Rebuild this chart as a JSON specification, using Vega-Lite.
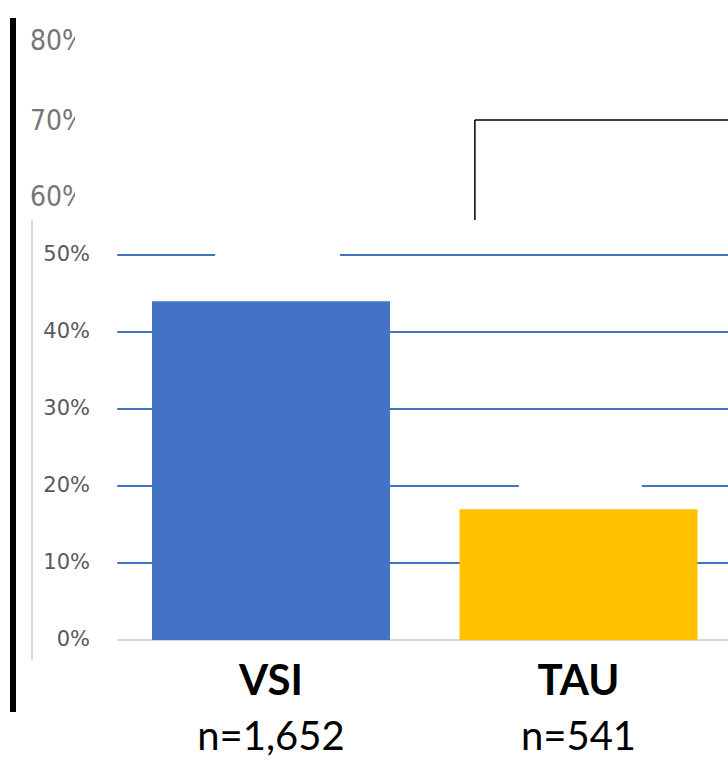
{
  "$schema": "https://vega.github.io/schema/vega-lite/v6.json",
  "width": 728,
  "height": 760,
  "autosize": "none",
  "padding": 0,
  "background": "white",
  "config": {"view": {"stroke": null}},
  "datasets": {
    "bars": [
      {"group": "VSI", "pos": 1, "share": 0.44, "n": "n=1,652"},
      {"group": "TAU", "pos": 2, "share": 0.17, "n": "n=541"}
    ],
    "grid": [
      {"level": 0.1, "from": 0.5, "to": 2.49},
      {"level": 0.2, "from": 0.5, "to": 1.806},
      {"level": 0.2, "from": 2.206, "to": 2.49},
      {"level": 0.3, "from": 0.5, "to": 2.49},
      {"level": 0.4, "from": 0.5, "to": 2.49},
      {"level": 0.5, "from": 0.5, "to": 0.818},
      {"level": 0.5, "from": 1.224, "to": 2.49}
    ],
    "lowerTicks": [
      {"v": 0, "label": "0%"},
      {"v": 0.1, "label": "10%"},
      {"v": 0.2, "label": "20%"},
      {"v": 0.3, "label": "30%"},
      {"v": 0.4, "label": "40%"},
      {"v": 0.5, "label": "50%"}
    ],
    "upperTicks": [
      {"v": 0.7766, "label": "80%"},
      {"v": 0.6727, "label": "70%"},
      {"v": 0.574, "label": "60%"}
    ],
    "bracket": [
      {"xa": 1.663, "ya": 0.5455, "xb": 1.663, "yb": 0.6753},
      {"xa": 1.663, "ya": 0.6753, "xb": 2.49, "yb": 0.6753}
    ],
    "frame": [
      {"xa": 0.161, "ya": 0.8078, "xb": 0.161, "yb": -0.0935, "kind": "outer"},
      {"xa": 0.2228, "ya": 0.5455, "xb": 0.2228, "yb": -0.026, "kind": "inner"},
      {"xa": 0.5, "ya": 0, "xb": 2.49, "yb": 0, "kind": "base"}
    ]
  },
  "layer": [
    {
      "data": {"name": "grid"},
      "mark": {"type": "rule", "color": "#4472C4", "strokeWidth": 2},
      "encoding": {
        "x": {"field": "from", "type": "quantitative", "scale": {"domain": [0.1187, 2.4862], "nice": false, "zero": false, "padding": 0}, "axis": null},
        "x2": {"field": "to"},
        "y": {"field": "level", "type": "quantitative", "scale": {"domain": [-0.1558, 0.8312], "nice": false, "zero": false, "padding": 0}, "axis": null}
      }
    },
    {
      "data": {"name": "frame"},
      "transform": [{"filter": "datum.kind === 'outer'"}],
      "mark": {"type": "rule", "color": "#000000", "strokeWidth": 6},
      "encoding": {
        "x": {"field": "xa", "type": "quantitative"},
        "x2": {"field": "xb"},
        "y": {"field": "ya", "type": "quantitative"},
        "y2": {"field": "yb"}
      }
    },
    {
      "data": {"name": "frame"},
      "transform": [{"filter": "datum.kind !== 'outer'"}],
      "mark": {"type": "rule", "color": "#D9D9D9", "strokeWidth": 2},
      "encoding": {
        "x": {"field": "xa", "type": "quantitative"},
        "x2": {"field": "xb"},
        "y": {"field": "ya", "type": "quantitative"},
        "y2": {"field": "yb"}
      }
    },
    {
      "data": {"name": "bars"},
      "mark": {"type": "bar", "orient": "vertical", "width": 238},
      "encoding": {
        "x": {"field": "pos", "type": "quantitative"},
        "y": {"field": "share", "type": "quantitative"},
        "y2": {"datum": 0},
        "color": {"field": "group", "type": "nominal", "scale": {"domain": ["VSI", "TAU"], "range": ["#4472C4", "#FFC000"]}, "legend": null}
      }
    },
    {
      "data": {"name": "bracket"},
      "mark": {"type": "rule", "color": "#000000", "strokeWidth": 1.5},
      "encoding": {
        "x": {"field": "xa", "type": "quantitative"},
        "x2": {"field": "xb"},
        "y": {"field": "ya", "type": "quantitative"},
        "y2": {"field": "yb"}
      }
    },
    {
      "data": {"name": "lowerTicks"},
      "mark": {"type": "text", "align": "right", "baseline": "middle", "font": "DejaVu Sans", "fontSize": 21, "color": "#595959"},
      "encoding": {
        "x": {"datum": 0.4114, "type": "quantitative"},
        "y": {"field": "v", "type": "quantitative"},
        "text": {"field": "label"}
      }
    },
    {
      "data": {"name": "upperTicks"},
      "mark": {"type": "text", "align": "left", "baseline": "middle", "font": "DejaVu Sans Condensed, Liberation Sans Narrow, sans-serif", "fontSize": 28, "color": "#767676"},
      "encoding": {
        "x": {"datum": 0.2163, "type": "quantitative"},
        "y": {"field": "v", "type": "quantitative"},
        "text": {"field": "label"}
      }
    },
    {
      "data": {"values": [{"xa": 0.3626, "xb": 0.4862, "ya": 0.8052, "yb": 0.5519}]},
      "mark": {"type": "rect", "color": "white"},
      "encoding": {
        "x": {"field": "xa", "type": "quantitative"},
        "x2": {"field": "xb"},
        "y": {"field": "ya", "type": "quantitative"},
        "y2": {"field": "yb"}
      }
    },
    {
      "data": {"name": "bars"},
      "mark": {"type": "text", "align": "center", "baseline": "alphabetic", "font": "Lato", "fontWeight": "bold", "fontSize": 42, "color": "#000000"},
      "encoding": {
        "x": {"field": "pos", "type": "quantitative"},
        "y": {"datum": -0.0714, "type": "quantitative"},
        "text": {"field": "group"}
      }
    },
    {
      "data": {"name": "bars"},
      "mark": {"type": "text", "align": "center", "baseline": "alphabetic", "font": "Lato", "fontSize": 40, "color": "#000000"},
      "encoding": {
        "x": {"field": "pos", "type": "quantitative"},
        "y": {"datum": -0.1429, "type": "quantitative"},
        "text": {"field": "n"}
      }
    }
  ]
}
